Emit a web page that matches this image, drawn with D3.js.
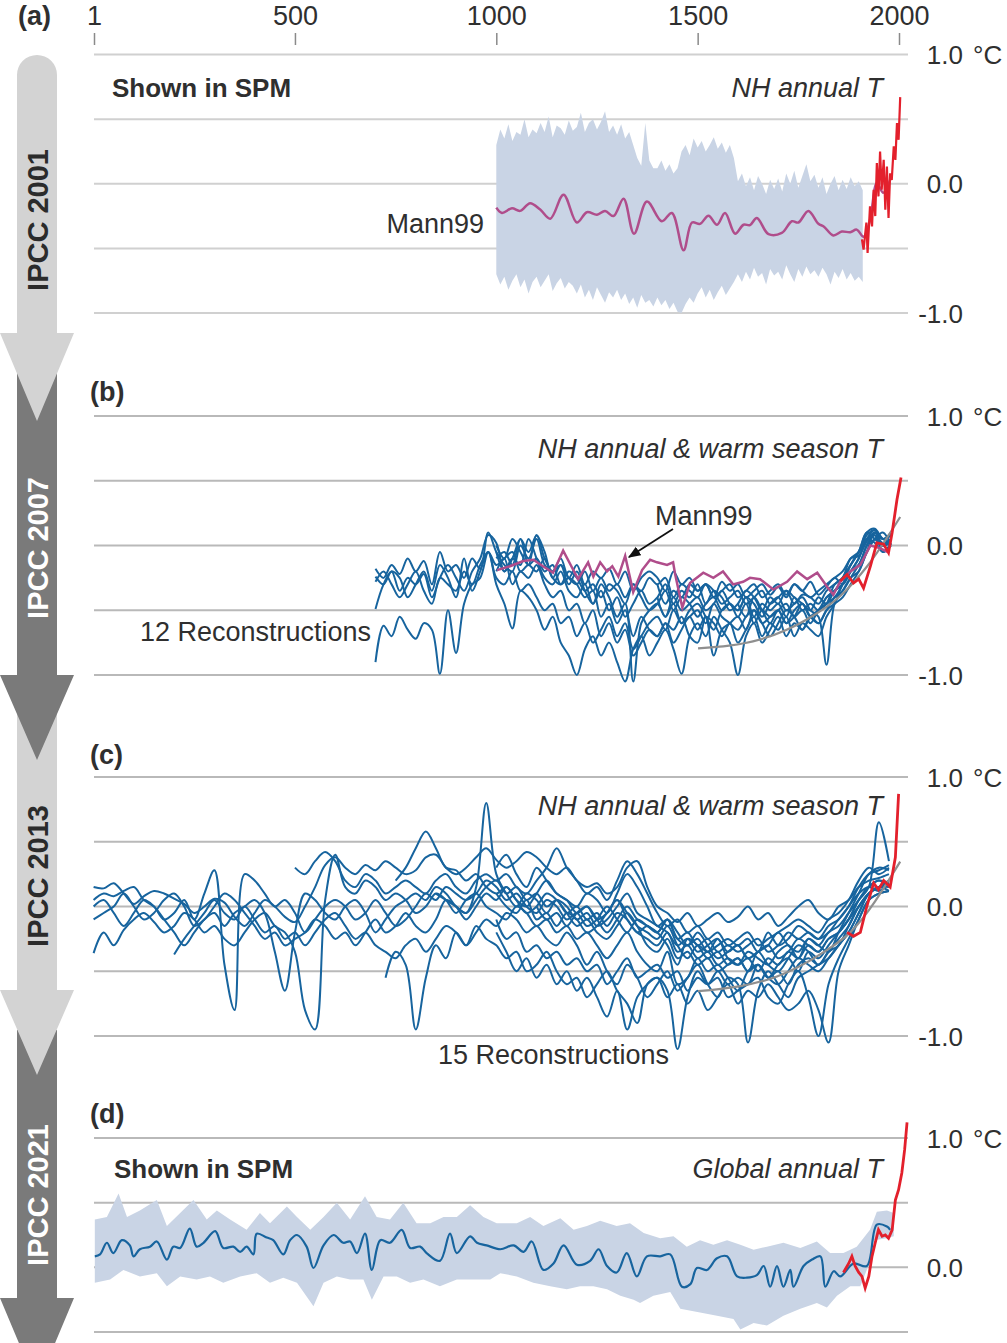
<!DOCTYPE html>
<html>
<head>
<meta charset="utf-8">
<script src="https://cdn.jsdelivr.net/npm/d3@7"></script>
<style>
body { margin: 0; background: #fff; }
svg { display: block; font-family: "Liberation Sans", Arial, sans-serif; }
</style>
</head>
<body>
<div id="chart"></div>
<script>
// ---- data ----
var tickYears = [1, 500, 1000, 1500, 2000];

// (a) Mann99 uncertainty band, every 10 years from 1000
var bandAStart = 1000, bandAStep = 10;
var bandAUpper = [
  0.30, 0.42, 0.35, 0.46, 0.33, 0.40, 0.38, 0.50, 0.36, 0.42,
  0.39, 0.47, 0.40, 0.52, 0.36, 0.45, 0.43, 0.38, 0.49, 0.41,
  0.44, 0.55, 0.40, 0.47, 0.50, 0.42, 0.48, 0.56, 0.40, 0.45,
  0.38, 0.46, 0.35, 0.40, 0.30, 0.20, 0.14, 0.47, 0.18, 0.12,
  0.12, 0.18, 0.10, 0.15, 0.08, 0.12, 0.25, 0.30, 0.22, 0.35,
  0.28, 0.33, 0.25, 0.30, 0.36, 0.27, 0.32, 0.24, 0.30, 0.20,
  0.02, 0.08, -0.02, 0.05, -0.05, 0.06, 0.00, -0.08, 0.03, -0.04,
  0.04, -0.06, 0.08, 0.00, 0.10, -0.03, 0.06, 0.15, 0.02, 0.07,
  -0.03, 0.05, -0.08, 0.00, 0.06, -0.05, 0.03, -0.04, 0.05, -0.02,
  0.02, -0.05
];
var bandALower = [
  -0.70, -0.78, -0.72, -0.82, -0.75, -0.70, -0.80, -0.74, -0.85, -0.76,
  -0.72, -0.80, -0.75, -0.70, -0.83, -0.77, -0.73, -0.81, -0.76, -0.79,
  -0.85, -0.78, -0.88, -0.82, -0.90, -0.80, -0.86, -0.92, -0.84, -0.88,
  -0.82, -0.90, -0.85, -0.93, -0.88, -0.96, -0.86, -0.92, -0.90, -0.95,
  -0.88, -0.94, -0.90, -0.97, -0.92, -0.99, -1.00, -0.93, -0.88, -0.92,
  -0.85, -0.80, -0.88, -0.82, -0.90, -0.84, -0.79, -0.86, -0.81, -0.76,
  -0.70, -0.76, -0.68, -0.74, -0.65, -0.72, -0.69, -0.78, -0.66, -0.71,
  -0.68, -0.74, -0.63, -0.70, -0.76, -0.66, -0.72, -0.64, -0.70, -0.67,
  -0.72, -0.65, -0.70, -0.78, -0.68, -0.73, -0.66, -0.74, -0.69, -0.75,
  -0.72, -0.76
];
var mann99A = [[1000,-0.185],[1014,-0.226],[1039,-0.19],[1059,-0.21],[1084,-0.15],[1109,-0.20],
  [1134,-0.27],[1167,-0.085],[1200,-0.30],[1225,-0.22],[1250,-0.24],[1270,-0.21],[1291,-0.25],
  [1316,-0.116],[1342,-0.386],[1374,-0.137],[1411,-0.29],[1436,-0.226],[1465,-0.515],[1486,-0.30],
  [1506,-0.31],[1527,-0.247],[1548,-0.317],[1568,-0.226],[1593,-0.386],[1614,-0.317],[1630,-0.32],
  [1647,-0.265],[1676,-0.39],[1709,-0.38],[1734,-0.29],[1750,-0.30],[1775,-0.21],[1800,-0.31],
  [1813,-0.33],[1837,-0.40],[1858,-0.37],[1879,-0.375],[1895,-0.355],[1912,-0.41],[1928,-0.28],
  [1945,0.005],[1961,-0.07],[1978,0.03]];
var instA = [[1908,-0.43],[1912,-0.51],[1919,-0.30],[1922,-0.535],[1928,-0.175],[1933,-0.33],
  [1937,-0.046],[1941,-0.25],[1945,0.16],[1949,-0.098],[1953,0.25],[1957,-0.046],[1962,0.185],
  [1966,-0.20],[1970,0.134],[1974,-0.265],[1978,0.08],[1982,0.03],[1987,0.29],[1991,0.185],
  [1995,0.47],[1999,0.34],[2003,0.67]];

// (b) 12 reconstructions, every 20 years
var recBStep = 20;
var recBStart = [700, 700, 700, 700, 700, 1000, 1000, 1000, 1400, 1400, 1000, 1600];
var recB1 = [-0.18,-0.25,-0.15,-0.22,-0.10, -0.20,-0.12,-0.30,-0.05,-0.20, -0.15,-0.25,-0.10,-0.18,0.10,
  -0.05,-0.15,-0.20,0.00,-0.10, 0.05,-0.15,-0.20,-0.10,-0.25, -0.15,-0.30,-0.20,-0.25,-0.18,
  -0.30,-0.20,-0.35,-0.25,-0.20, -0.25,-0.35,-0.20,-0.30,-0.25, -0.35,-0.30,-0.40,-0.28,-0.35,
  -0.30,-0.40,-0.35,-0.30,-0.38, -0.32,-0.40,-0.30,-0.35,-0.28, -0.38,-0.32,-0.25,-0.30,-0.20,
  -0.10,0.05,0.12,0.00,0.05];
var recB2 = [-0.24,-0.30,-0.20,-0.35,-0.25, -0.30,-0.22,-0.40,-0.25,-0.15, -0.25,-0.35,-0.20,-0.10,0.08,
  0.02,-0.20,-0.10,-0.15,0.05, -0.10,-0.25,-0.30,-0.20,-0.35, -0.40,-0.30,-0.45,-0.35,-0.50,
  -0.40,-0.55,-0.45,-0.35,-0.45, -0.40,-0.30,-0.45,-0.35,-0.40, -0.30,-0.45,-0.35,-0.40,-0.50,
  -0.45,-0.35,-0.40,-0.50,-0.40, -0.45,-0.35,-0.40,-0.45,-0.50, -0.40,-0.45,-0.35,-0.30,-0.20,
  -0.15,0.00,0.08,-0.05,0.02];
var recB3 = [-0.28,-0.20,-0.30,-0.40,-0.30, -0.20,-0.35,-0.45,-0.25,-0.30, -0.35,-0.20,-0.30,-0.15,-0.05,
  -0.25,-0.30,-0.20,-0.35,-0.30, -0.40,-0.50,-0.45,-0.60,-0.55, -0.70,-0.60,-0.75,-0.65,-0.55,
  -0.70,-0.60,-0.80,-0.70,-0.60, -0.55,-0.65,-0.50,-0.60,-0.55, -0.50,-0.60,-0.45,-0.55,-0.60,
  -0.65,-0.55,-0.50,-0.60,-0.55, -0.50,-0.60,-0.55,-0.45,-0.55, -0.60,-0.50,-0.40,-0.35,-0.25,
  -0.15,-0.05,0.05,0.00,0.02];
var recB4 = [-0.49,-0.30,-0.20,-0.25,-0.40, -0.30,-0.20,-0.35,-0.15,-0.25, -0.40,-0.10,-0.35,-0.20,-0.05,
  -0.15,-0.10,-0.05,-0.20,-0.15, -0.20,-0.10,-0.25,-0.30,-0.20, -0.25,-0.35,-0.30,-0.40,-0.30,
  -0.35,-0.45,-0.30,-0.40,-0.50, -0.45,-0.35,-0.50,-0.40,-0.45, -0.55,-0.45,-0.40,-0.50,-0.45,
  -0.50,-0.40,-0.45,-0.55,-0.45, -0.40,-0.50,-0.45,-0.40,-0.50, -0.55,-0.92,-0.45,-0.35,-0.25,
  -0.20,-0.05,0.05,0.10,0.00];
var recB5 = [-0.90,-0.62,-0.70,-0.55,-0.65, -0.72,-0.60,-0.65,-0.99,-0.50, -0.83,-0.45,-0.30,-0.25,-0.05,
  -0.30,-0.45,-0.64,-0.35,-0.40, -0.50,-0.65,-0.55,-0.75,-0.85, -1.00,-0.80,-0.70,-0.85,-0.75,
  -0.90,-1.05,-0.80,-0.70,-0.85, -0.75,-0.65,-0.80,-0.99,-0.70, -0.60,-0.70,-0.55,-0.65,-0.75,
  -1.00,-0.70,-0.60,-0.75,-0.65, -0.55,-0.70,-0.60,-0.65,-0.55, -0.60,-0.50,-0.45,-0.40,-0.30,
  -0.20,-0.05,0.10,0.05,0.08];
var recB6 = [-0.05,-0.20,-0.10,0.05,-0.15, 0.08,-0.05,-0.25,-0.15,-0.30, -0.20,-0.35,-0.45,-0.30,-0.40,
  -0.55,-0.45,-1.05,-0.60,-0.50, -0.45,-0.55,-0.40,-0.50,-0.45, -0.40,-0.50,-0.45,-0.35,-0.45,
  -0.50,-0.40,-0.55,-0.45,-0.50, -0.45,-0.55,-0.40,-0.50,-0.45, -0.50,-0.40,-0.35,-0.30,-0.20,
  -0.10,0.05,0.08,0.02,0.05];
var recB7 = [-0.20,-0.10,-0.30,-0.20,-0.25, -0.15,-0.30,-0.40,-0.35,-0.50, -0.45,-0.60,-0.50,-0.70,-0.60,
  -0.75,-0.65,-0.85,-0.75,-0.65, -0.70,-0.60,-0.75,-0.65,-0.55, -0.65,-0.55,-0.60,-0.70,-0.60,
  -0.75,-0.65,-0.55,-0.70,-0.60, -0.65,-0.55,-0.70,-0.60,-0.65, -0.70,-0.55,-0.45,-0.30,-0.20,
  -0.15,0.00,0.10,0.05,0.10];
var recB8 = [0.00,-0.10,0.05,-0.05,-0.15, -0.10,-0.20,-0.15,-0.30,-0.25, -0.30,-0.40,-0.35,-0.55,-0.45,
  -0.60,-0.50,-0.70,-0.55,-0.65, -0.70,-0.60,-0.65,-0.55,-0.70, -0.75,-0.55,-0.85,-0.65,-0.60,
  -0.55,-0.65,-0.50,-0.60,-0.70, -0.60,-0.50,-0.55,-0.65,-0.55, -0.50,-0.45,-0.30,-0.25,-0.15,
  -0.05,0.10,0.13,0.05,0.08];
var recB9 = [-0.30,-0.45,-0.35,-0.40,-0.30, -0.35,-0.30,-0.40,-0.35,-0.30, -0.40,-0.35,-0.30,-0.40,-0.35,
  -0.30,-0.38,-0.30,-0.35,-0.40, -0.35,-0.30,-0.25,-0.20,-0.10, -0.05,0.08,0.12,0.05,0.02];
var recB10 = [-0.40,-0.55,-0.45,-0.60,-0.50, -0.45,-0.55,-0.65,-0.50,-0.45, -0.55,-0.45,-0.60,-0.50,-0.55,
  -0.50,-0.45,-0.55,-0.50,-0.60, -0.50,-0.45,-0.40,-0.30,-0.15, -0.05,0.05,0.02,-0.05,0.00];
var recB11 = [-0.10,-0.05,-0.15,0.05,-0.05, 0.08,-0.10,-0.20,-0.15,-0.25, -0.30,-0.20,-0.35,-0.25,-0.35,
  -0.30,-0.40,-0.30,-0.35,-0.25, -0.30,-0.25,-0.40,-0.30,-0.35, -0.40,-0.30,-0.35,-0.45,-0.40,
  -0.35,-0.45,-0.40,-0.35,-0.45, -0.40,-0.35,-0.45,-0.38,-0.40, -0.45,-0.35,-0.30,-0.25,-0.10,
  -0.08,0.03,0.10,0.00,0.05];
var recB12 = [-0.45,-0.55,-0.40,-0.50,-0.60, -0.50,-0.60,-0.50,-0.45,-0.55, -0.50,-0.40,-0.35,-0.25,-0.15,
  -0.05,0.10,0.05,0.00,0.05];
var mann99B = [[1002,-0.19],[1034,-0.16],[1067,-0.12],[1092,-0.11],[1116,-0.16],[1141,-0.21],[1166,-0.04],
  [1188,-0.17],[1203,-0.26],[1228,-0.13],[1241,-0.24],[1258,-0.13],[1275,-0.20],[1288,-0.16],[1303,-0.24],
  [1320,-0.08],[1340,-0.36],[1362,-0.19],[1382,-0.11],[1399,-0.13],[1424,-0.15],[1439,-0.13],[1444,-0.22],
  [1462,-0.48],[1481,-0.29],[1514,-0.21],[1539,-0.25],[1563,-0.20],[1588,-0.30],[1613,-0.28],[1630,-0.25],
  [1655,-0.26],[1688,-0.34],[1722,-0.28],[1747,-0.20],[1772,-0.26],[1797,-0.21],[1822,-0.32],[1837,-0.38],
  [1854,-0.28],[1879,-0.20],[1904,-0.15],[1929,0.00],[1953,-0.02],[1971,-0.05]];
var instB = [[1854,-0.275],[1871,-0.224],[1887,-0.29],[1900,-0.26],[1912,-0.33],[1929,-0.16],[1945,0.02],
  [1962,0.01],[1974,-0.056],[1983,0.10],[1995,0.355],[2005,0.525]];
var trendB = [[1501,-0.795],[1655,-0.726],[1772,-0.57],[1854,-0.39],[1921,-0.16],[2003,0.22]];

// (c) 15 reconstructions, every 25 years
var recCStep = 25;
var recCStart = [0, 0, 0, 0, 0, 200, 500, 725, 850, 750, 1000, 1000, 1000, 1100, 1000];
var recC1 = [0.15,0.14,0.18,0.10,0.02,0.08,0.12,0.10, 0.06,0.02,-0.05,0.00,0.06,0.03,-0.08,-0.15,
  -0.05,0.05,0.00,-0.08,-0.12,0.00,0.15,0.32, 0.38,0.30,0.25,0.32,0.28,0.35,0.30,0.25,
  0.28,0.38,0.40,0.30,0.25,0.30,0.38,0.45, 0.36,0.30,0.35,0.42,0.38,0.30,0.25,0.30,
  0.20,0.15,0.18,0.10,0.15,0.30,0.35,0.15, 0.00,-0.05,-0.12,-0.05,-0.15,-0.10,-0.05,-0.12,
  -0.08,0.00,-0.10,-0.05,-0.15,-0.08,0.00,0.05, -0.05,-0.10,0.00,0.05,0.15,0.20,0.22,0.25];
var recC2 = [0.05,0.10,0.08,0.12,0.15,0.05,0.00,-0.10, -0.05,0.05,-0.10,0.10,0.28,-0.45,-0.80,0.25,
  0.20,0.10,0.00,0.05,-0.05,-0.20,-0.10,0.00, 0.05,0.00,-0.10,-0.05,0.05,-0.05,-0.15,-0.10,
  0.00,0.10,0.05,0.15,0.10,0.05,0.10,0.20, 0.15,0.05,0.10,0.00,-0.05,0.05,0.00,-0.10,
  -0.05,-0.15,-0.10,0.00,-0.10,-0.20,-0.10,-0.15, -0.20,-0.30,-0.45,-0.25,-0.30,-0.40,-0.35,-0.45,
  -0.40,-0.50,-0.35,-0.45,-0.50,-0.40,-0.30,-0.35, -0.45,-0.35,-0.25,-0.15,0.00,0.10,0.15,0.18];
var recC3 = [-0.36,-0.20,-0.30,-0.18,-0.10,-0.05,-0.12,-0.20, -0.15,-0.05,-0.10,-0.20,-0.15,-0.25,-0.30,-0.20,
  -0.10,-0.05,-0.15,-0.20,-0.35,-0.80,-0.95,0.05, 0.40,0.15,0.10,0.20,0.15,0.05,0.10,0.05,
  -0.05,0.00,0.10,0.05,-0.05,0.05,0.10,0.00, -0.05,-0.10,0.00,-0.05,-0.15,-0.10,-0.20,-0.15,
  -0.25,-0.20,-0.30,-0.40,-0.30,-0.20,-0.35,-0.45, -0.50,-0.35,-0.60,-0.55,-0.40,-0.50,-0.45,-0.55,
  -0.65,-0.50,-0.45,-0.55,-0.60,-0.50,-0.40,-0.45, -0.50,-0.40,-0.30,-0.20,-0.05,0.10,0.15,0.20];
var recC4 = [-0.10,-0.05,0.00,0.10,0.00,-0.10,-0.05,0.05, 0.10,0.00,-0.15,-0.10,0.00,0.10,0.05,-0.05,
  -0.15,-0.25,-0.20,-0.30,-0.25,-0.20,-0.10,-0.15, -0.25,-0.20,-0.30,-0.20,-0.10,-0.20,-0.15,-0.05,
  -0.15,-0.20,-0.10,0.05,0.00,-0.10,0.00,0.10, 0.05,0.15,0.05,0.00,0.10,0.20,0.10,0.05,
  -0.05,0.00,-0.10,-0.05,0.05,-0.05,-0.15,-0.20, -0.25,-0.15,-0.30,-0.40,-0.30,-0.35,-0.25,-0.35,
  -0.30,-0.40,-0.35,-0.30,-0.40,-0.35,-0.25,-0.30, -0.35,-0.25,-0.20,-0.10,0.05,0.15,0.20,0.15];
var recC5 = [0.00,0.05,-0.05,-0.15,-0.05,0.05,0.00,-0.10, -0.20,-0.30,-0.20,-0.10,-0.05,-0.15,-0.05,0.00,
  0.05,-0.05,-0.35,-0.65,-0.20,0.10,0.05,-0.05, -0.10,0.00,0.05,-0.05,-0.20,-0.10,0.00,0.05,
  0.10,0.05,0.15,0.10,0.00,-0.05,0.05,0.15, 0.20,0.10,0.15,0.05,0.10,0.00,0.05,-0.05,
  0.00,-0.10,-0.05,-0.15,-0.05,-0.10,-0.20,-0.15, -0.20,-0.10,-0.25,-0.20,-0.30,-0.25,-0.35,-0.30,
  -0.35,-0.30,-0.25,-0.35,-0.30,-0.20,-0.25,-0.20, -0.25,-0.20,-0.10,0.00,0.10,0.15,0.12,0.18];
var recC6 = [-0.37,-0.25,-0.15,-0.05,0.05,-0.05,-0.10,0.00,
  -0.10,-0.20,-0.15,-0.25,-0.20,-0.30,-0.20,-0.10, -0.05,-0.15,-0.25,-0.20,-0.30,-0.35,-0.40,-0.30,
  -0.25,-0.35,-0.25,-0.15,-0.20,-0.30,-0.20,-0.10, -0.15,-0.05,-0.10,-0.20,-0.15,-0.25,-0.30,-0.20,
  -0.30,-0.45,-0.35,-0.50,-0.60,-0.45,-0.55,-0.70, -0.60,-0.50,-0.65,-0.55,-0.45,-0.60,-0.70,-0.55,
  -0.60,-1.05,-0.65,-0.50,-0.60,-0.70,-0.55,-0.50, -0.45,-0.40,-0.30,-0.20,-0.05,0.10,0.15,0.12];
var recC7 = [0.30,0.25,0.35,0.42,
  0.35,0.20,0.15,0.25,0.20,0.10,0.15,0.20, 0.15,0.10,0.20,0.25,0.15,0.10,0.20,0.25,
  0.20,0.25,0.15,0.10,0.20,0.30,0.45,0.30, 0.20,0.10,0.15,0.05,0.20,0.35,0.25,0.10,
  -0.05,-0.15,-0.10,-0.20,-0.15,-0.25,-0.20,-0.30, -0.25,-0.20,-0.30,-0.25,-0.20,-0.15,-0.10,-0.15,
  -0.20,-0.10,-0.05,0.05,0.20,0.30,0.25,0.30];
var recC8 = [-0.55,-0.35,-0.45,
  -0.95,-0.55,-0.30,-0.40,-0.20,-0.30,-0.15,-0.25, -0.30,-0.40,-0.35,-0.50,-0.45,-0.35,-0.50,-0.60,
  -0.55,-0.70,-0.60,-0.50,-0.65,-0.75,-0.90,-0.60, -0.55,-0.65,-1.10,-0.70,-0.50,-0.60,-0.55,-0.70,
  -0.65,-0.60,-0.55,-0.70,-0.75,-0.60,-0.50,-0.70, -1.00,-0.60,-0.40,-0.25,-0.10,0.05,0.10,0.12];
var recC9 = [0.10,0.05,0.00,-0.05,0.15,0.80,
  0.25,0.10,0.00,0.10,0.05,-0.05,0.05,0.00, -0.10,-0.05,-0.15,-0.10,0.00,0.10,-0.05,-0.10,
  -0.15,-0.20,-0.30,-0.25,-0.35,-0.30,-0.25,-0.40, -0.45,-0.35,-0.40,-0.45,-0.35,-0.30,-0.40,-0.25,
  -0.30,-0.20,-0.15,-0.05,0.05,0.15,0.65,0.35];
var recC10 = [0.20,0.30,
  0.45,0.58,0.45,0.30,0.28,0.20,0.25,0.15, 0.10,0.15,0.05,-0.05,0.00,0.10,0.05,-0.05,
  -0.15,-0.10,-0.20,-0.25,-0.15,-0.05,-0.15,-0.30, -0.35,-0.25,-0.40,-0.35,-0.45,-0.40,-0.50,-0.45,
  -0.40,-0.50,-0.45,-0.55,-0.45,-0.40,-0.50,-0.35, -0.40,-0.30,-0.20,-0.10,0.05,0.15,0.20,0.18];
var recC11 = [-0.20,-0.35,-0.50,-0.40,-0.55,-0.45,-0.60,-0.50, -0.65,-0.55,-0.70,-0.85,-0.65,-0.95,-0.70,-0.60,
  -0.55,-0.70,-0.60,-0.75,-0.65,-0.80,-0.70,-0.60, -0.75,-0.65,-0.70,-0.60,-0.70,-0.80,-0.75,-0.65,
  -0.80,-1.05,-0.50,-0.30,-0.10,0.05,0.10,0.12];
var recC12 = [0.10,0.00,-0.05,0.05,-0.10,-0.05,-0.15,-0.05, -0.10,-0.20,-0.15,-0.05,0.05,-0.10,-0.20,-0.25,
  -0.30,-0.20,-0.35,-0.30,-0.40,-0.35,-0.45,-0.40, -0.45,-0.40,-0.50,-0.40,-0.45,-0.35,-0.40,-0.30,
  -0.35,-0.25,-0.20,-0.10,0.00,0.10,0.15,0.20];
var recC13 = [-0.10,-0.25,-0.20,-0.35,-0.30,-0.40,-0.35,-0.45, -0.40,-0.50,-0.45,-0.60,-0.50,-0.40,-0.55,-0.50,
  -0.45,-0.55,-0.50,-0.65,-0.55,-0.60,-0.50,-0.60, -0.55,-0.60,-0.45,-0.55,-0.50,-0.60,-0.45,-0.40,
  -0.45,-0.35,-0.30,-0.15,0.00,0.10,0.15,0.15];
var recC14 = [0.00,-0.10,-0.05,-0.15,
  -0.05,0.00,-0.10,-0.20,-0.10,0.00,-0.10,-0.15, -0.20,-0.10,-0.25,-0.30,-0.20,-0.30,-0.40,-0.35,
  -0.30,-0.40,-0.35,-0.30,-0.20,-0.30,-0.35,-0.25, -0.30,-0.35,-0.20,-0.05,0.10,0.25,0.30,0.28];
var recC15 = [0.30,0.40,0.25,0.15,0.30,0.20,0.10,0.05, 0.00,0.10,0.05,-0.05,0.10,0.25,0.15,0.00,
  -0.15,-0.10,-0.20,-0.30,-0.25,-0.35,-0.30,-0.25, -0.30,-0.25,-0.35,-0.20,-0.30,-0.25,-0.15,-0.20,
  -0.25,-0.15,-0.10,0.00,0.15,0.25,0.28,0.32];
var instC = [[1871,-0.20],[1887,-0.23],[1904,-0.20],[1920,0.00],[1937,0.18],[1949,0.13],[1962,0.20],
  [1978,0.15],[1991,0.38],[1999,0.87]];
var trendC = [[1501,-0.654],[1697,-0.54],[1812,-0.354],[1879,-0.20],[2003,0.346]];

// (d) global annual T
var recD = [[3,0.085],[16,0.10],[33,0.19],[49,0.11],[70,0.21],[90,0.17],[99,0.085],[115,0.14],[140,0.16],
  [157,0.20],[182,0.06],[198,0.16],[215,0.15],[239,0.30],[256,0.16],[273,0.19],[302,0.28],[322,0.15],
  [347,0.16],[364,0.12],[380,0.16],[397,0.10],[405,0.26],[430,0.23],[446,0.21],[471,0.10],[488,0.21],
  [505,0.25],[529,0.16],[546,-0.005],[571,0.17],[596,0.25],[620,0.19],[637,0.20],[654,0.11],[674,0.26],
  [691,-0.02],[712,0.21],[736,0.19],[765,0.29],[786,0.15],[811,0.16],[827,0.11],[860,0.05],[885,0.26],
  [902,0.11],[935,0.24],[952,0.19],[976,0.17],[1010,0.14],[1043,0.17],[1068,0.12],[1088,0.20],
  [1117,-0.02],[1142,0.03],[1167,0.17],[1200,0.02],[1233,0.05],[1254,0.14],[1275,0.01],[1299,-0.04],
  [1324,0.11],[1349,-0.07],[1374,0.085],[1407,0.085],[1432,0.10],[1461,-0.15],[1482,-0.13],[1498,-0.005],
  [1523,-0.02],[1548,0.07],[1573,0.085],[1598,-0.07],[1622,-0.08],[1647,-0.06],[1664,0.01],[1680,-0.15],
  [1697,0.01],[1713,-0.15],[1730,-0.02],[1738,-0.15],[1763,0.01],[1784,0.06],[1805,0.085],[1817,-0.15],
  [1838,-0.03],[1854,-0.07],[1887,0.03],[1920,0.01],[1945,0.33],[1970,0.315],[1978,0.29]];
var bandDUpper = [[3,0.37],[33,0.39],[62,0.57],[83,0.39],[115,0.44],[157,0.52],[182,0.32],[215,0.42],
  [248,0.52],[281,0.37],[306,0.44],[339,0.37],[380,0.29],[413,0.42],[438,0.34],[480,0.47],[505,0.39],
  [538,0.29],[571,0.39],[604,0.50],[637,0.37],[674,0.55],[703,0.39],[736,0.37],[769,0.50],[802,0.34],
  [836,0.34],[869,0.39],[902,0.39],[935,0.48],[968,0.39],[1001,0.34],[1051,0.34],[1084,0.39],[1117,0.32],
  [1159,0.38],[1192,0.29],[1225,0.32],[1258,0.36],[1299,0.32],[1332,0.34],[1366,0.265],[1407,0.225],
  [1440,0.24],[1473,0.16],[1506,0.21],[1539,0.175],[1573,0.21],[1606,0.175],[1639,0.135],[1672,0.16],
  [1713,0.19],[1755,0.15],[1796,0.20],[1829,0.11],[1862,0.11],[1895,0.16],[1928,0.29],[1945,0.43],
  [1970,0.44],[1987,0.42]];
var bandDLower = [[3,-0.12],[41,-0.095],[74,-0.02],[115,-0.07],[157,-0.045],[182,-0.146],[215,-0.07],
  [256,-0.095],[289,-0.07],[322,-0.12],[364,-0.07],[405,-0.045],[438,-0.12],[471,-0.08],[505,-0.12],
  [546,-0.30],[571,-0.12],[604,-0.07],[637,-0.095],[670,-0.095],[691,-0.25],[720,-0.07],[753,-0.07],
  [786,-0.12],[819,-0.095],[860,-0.146],[902,-0.095],[943,-0.095],[985,-0.095],[1010,-0.045],[1051,-0.07],
  [1092,-0.12],[1134,-0.146],[1175,-0.17],[1208,-0.146],[1241,-0.146],[1275,-0.17],[1308,-0.22],
  [1341,-0.25],[1357,-0.275],[1390,-0.22],[1432,-0.19],[1457,-0.32],[1506,-0.35],[1548,-0.375],
  [1589,-0.40],[1606,-0.48],[1639,-0.43],[1672,-0.45],[1713,-0.375],[1755,-0.32],[1796,-0.275],
  [1821,-0.31],[1846,-0.22],[1879,-0.146],[1904,-0.146],[1920,-0.02],[1937,0.21],[1970,0.225],[1987,0.24]];
var instD = [[1862,-0.04],[1875,0.03],[1883,0.085],[1891,0.01],[1900,-0.04],[1908,-0.07],[1916,-0.16],
  [1925,-0.07],[1933,0.085],[1941,0.19],[1949,0.29],[1958,0.24],[1966,0.25],[1974,0.225],[1983,0.29],
  [1991,0.52],[1999,0.60],[2007,0.73],[2014,0.91],[2020,1.12]];

// ---- chart ----
var width = 1007, height = 1343;
var svg = d3.select("#chart").append("svg")
    .attr("width", width)
    .attr("height", height);

var fontMain = "'Liberation Sans', Arial, sans-serif";
var textCol = "#2f2f2f";
var blue = "#17649e", purple = "#b04d8b", red = "#e3202c", bandCol = "#c9d4e5";

var x = d3.scaleLinear().domain([1, 2000]).range([94, 899]);
var yA = d3.scaleLinear().domain([-1, 1]).range([313, 54.5]);
var yB = d3.scaleLinear().domain([-1, 1]).range([675, 416]);
var yC = d3.scaleLinear().domain([-1, 1]).range([1036, 777]);
var yD = d3.scaleLinear().domain([-0.5, 1]).range([1332, 1138]);

// left arrows (drawn newest first so older heads sit on top)
var arrows = [
  {top: 1030, head: 1298, tip: 1386, fill: "#7a7a7a", label: "IPCC 2021", cy: 1195, col: "#fff"},
  {top: 700, head: 990, tip: 1075, fill: "#d3d3d3", label: "IPCC 2013", cy: 876, col: "#2b2b2b"},
  {top: 330, head: 675, tip: 760, fill: "#7a7a7a", label: "IPCC 2007", cy: 548, col: "#fff"},
  {top: 55, head: 333, tip: 421, fill: "#d3d3d3", label: "IPCC 2001", cy: 220, col: "#2b2b2b", round: true}
];
arrows.forEach(function (a) {
  var p = d3.path();
  if (a.round) {
    p.moveTo(17, a.top + 20);
    p.arc(37, a.top + 20, 20, Math.PI, 2 * Math.PI);
  } else {
    p.moveTo(17, a.top);
    p.lineTo(57, a.top);
  }
  p.lineTo(57, a.head);
  p.lineTo(74, a.head);
  p.lineTo(37, a.tip);
  p.lineTo(0, a.head);
  p.lineTo(17, a.head);
  p.closePath();
  svg.append("path").attr("d", p.toString()).attr("fill", a.fill);
  svg.append("text")
    .attr("transform", "translate(48," + a.cy + ") rotate(-90)")
    .attr("text-anchor", "middle")
    .attr("font-family", fontMain)
    .attr("font-weight", "bold")
    .attr("font-size", 29)
    .attr("fill", a.col)
    .text(a.label);
});

// top axis
var axis = d3.axisTop(x).tickValues(tickYears).tickSize(12).tickPadding(8).tickFormat(d3.format("d"));
var gAxis = svg.append("g").attr("transform", "translate(0,45)").call(axis);
gAxis.select(".domain").remove();
gAxis.selectAll("line").attr("stroke", "#8a8a8a").attr("stroke-width", 1.5);
gAxis.selectAll("text").attr("font-size", 27).attr("font-family", fontMain).attr("fill", textCol);

// gridlines + right labels
var panels = [
  {y: yA, grid: [1, 0.5, 0, -0.5, -1], labels: [1, 0, -1], gridCol: "#d0d0d0"},
  {y: yB, grid: [1, 0.5, 0, -0.5, -1], labels: [1, 0, -1], gridCol: "#b9b9b9"},
  {y: yC, grid: [1, 0.5, 0, -0.5, -1], labels: [1, 0, -1], gridCol: "#b9b9b9"},
  {y: yD, grid: [1, 0.5, 0, -0.5], labels: [1, 0], gridCol: "#b9b9b9"}
];
panels.forEach(function (p) {
  svg.append("g").selectAll("line").data(p.grid).join("line")
    .attr("x1", 94).attr("x2", 908)
    .attr("y1", d => p.y(d)).attr("y2", d => p.y(d))
    .attr("stroke", p.gridCol).attr("stroke-width", 2);
  var g = svg.append("g").attr("font-family", fontMain).attr("font-size", 26).attr("fill", textCol);
  g.selectAll("text.val").data(p.labels).join("text")
    .attr("class", "val")
    .attr("x", 963).attr("y", d => p.y(d) + 9.5)
    .attr("text-anchor", "end")
    .text(d => d3.format(".1f")(d).replace("−", "-"));
  g.append("text").attr("x", 973).attr("y", p.y(1) + 9.5).text("°C");
});

function seriesFrom(values, start, step) {
  return values.map(function (v, i) { return [start + i * step, v]; });
}
function bandPath(upper, lower, y) {
  var pts = upper.concat(lower.slice().reverse());
  return d3.line().x(d => x(d[0])).y(d => y(d[1]))(pts) + "Z";
}

// (a)
svg.append("path")
  .attr("d", bandPath(seriesFrom(bandAUpper, bandAStart, bandAStep), seriesFrom(bandALower, bandAStart, bandAStep), yA))
  .attr("fill", bandCol);
svg.append("path").datum(mann99A)
  .attr("d", d3.line().x(d => x(d[0])).y(d => yA(d[1])).curve(d3.curveCatmullRom))
  .attr("fill", "none").attr("stroke", purple).attr("stroke-width", 2.5);
svg.append("path").datum(instA)
  .attr("d", d3.line().x(d => x(d[0])).y(d => yA(d[1])))
  .attr("fill", "none").attr("stroke", red).attr("stroke-width", 2.2);

// (b)
var recB = [recB1, recB2, recB3, recB4, recB5, recB6, recB7, recB8, recB9, recB10, recB11, recB12];
var lineB = d3.line().x(d => x(d[0])).y(d => yB(d[1])).curve(d3.curveCatmullRom);
svg.append("g").selectAll("path").data(recB).join("path")
  .attr("d", (d, i) => lineB(seriesFrom(d, recBStart[i], recBStep)))
  .attr("fill", "none").attr("stroke", blue).attr("stroke-width", 2);
svg.append("path").datum(trendB)
  .attr("d", d3.line().x(d => x(d[0])).y(d => yB(d[1])).curve(d3.curveMonotoneX))
  .attr("fill", "none").attr("stroke", "#8f8f8f").attr("stroke-width", 2.2);
svg.append("path").datum(mann99B)
  .attr("d", d3.line().x(d => x(d[0])).y(d => yB(d[1])))
  .attr("fill", "none").attr("stroke", purple).attr("stroke-width", 2.5);
svg.append("path").datum(instB)
  .attr("d", d3.line().x(d => x(d[0])).y(d => yB(d[1])))
  .attr("fill", "none").attr("stroke", red).attr("stroke-width", 2.8);

// (c)
var recC = [recC1, recC2, recC3, recC4, recC5, recC6, recC7, recC8, recC9, recC10, recC11, recC12, recC13, recC14, recC15];
var lineC = d3.line().x(d => x(d[0])).y(d => yC(d[1])).curve(d3.curveCatmullRom);
svg.append("g").selectAll("path").data(recC).join("path")
  .attr("d", (d, i) => lineC(seriesFrom(d, recCStart[i], recCStep)))
  .attr("fill", "none").attr("stroke", blue).attr("stroke-width", 2);
svg.append("path").datum(trendC)
  .attr("d", d3.line().x(d => x(d[0])).y(d => yC(d[1])).curve(d3.curveMonotoneX))
  .attr("fill", "none").attr("stroke", "#8f8f8f").attr("stroke-width", 2.2);
svg.append("path").datum(instC)
  .attr("d", d3.line().x(d => x(d[0])).y(d => yC(d[1])))
  .attr("fill", "none").attr("stroke", red).attr("stroke-width", 2.8);

// (d)
svg.append("path").attr("d", bandPath(bandDUpper, bandDLower, yD)).attr("fill", bandCol);
svg.append("path").datum(recD)
  .attr("d", d3.line().x(d => x(d[0])).y(d => yD(d[1])).curve(d3.curveCatmullRom))
  .attr("fill", "none").attr("stroke", blue).attr("stroke-width", 2.2);
svg.append("path").datum(instD)
  .attr("d", d3.line().x(d => x(d[0])).y(d => yD(d[1])))
  .attr("fill", "none").attr("stroke", red).attr("stroke-width", 2.8);

// labels
var labels = [
  {t: "(a)", x: 18, y: 25, w: "bold"}, {t: "(b)", x: 90, y: 401, w: "bold"},
  {t: "(c)", x: 90, y: 764, w: "bold"}, {t: "(d)", x: 90, y: 1123, w: "bold"},
  {t: "Shown in SPM", x: 112, y: 97, w: "bold", fs: 26},
  {t: "Shown in SPM", x: 114, y: 1178, w: "bold", fs: 26},
  {t: "NH annual T", x: 883, y: 97, a: "end", s: "italic"},
  {t: "NH annual & warm season T", x: 883, y: 458, a: "end", s: "italic"},
  {t: "NH annual & warm season T", x: 883, y: 815, a: "end", s: "italic"},
  {t: "Global annual T", x: 883, y: 1178, a: "end", s: "italic"},
  {t: "Mann99", x: 484, y: 233, a: "end"},
  {t: "Mann99", x: 655, y: 525},
  {t: "12 Reconstructions", x: 140, y: 641},
  {t: "15 Reconstructions", x: 438, y: 1064}
];
svg.append("g").selectAll("text").data(labels).join("text")
  .attr("x", d => d.x).attr("y", d => d.y)
  .attr("text-anchor", d => d.a || "start")
  .attr("font-family", fontMain)
  .attr("font-size", d => d.fs || 27)
  .attr("font-weight", d => d.w || "normal")
  .attr("font-style", d => d.s || "normal")
  .attr("fill", textCol)
  .text(d => d.t);

// Mann99 pointer in (b)
svg.append("defs").append("marker")
  .attr("id", "head").attr("viewBox", "0 0 10 10").attr("refX", 9).attr("refY", 5)
  .attr("markerWidth", 7).attr("markerHeight", 7).attr("orient", "auto")
  .append("path").attr("d", "M0,1L10,5L0,9Z").attr("fill", "#111");
svg.append("line")
  .attr("x1", 673).attr("y1", 529).attr("x2", 629).attr("y2", 557)
  .attr("stroke", "#111").attr("stroke-width", 1.8).attr("marker-end", "url(#head)");
</script>
</body>
</html>
